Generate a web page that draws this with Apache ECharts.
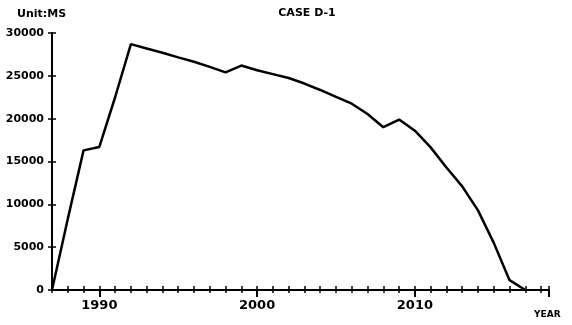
<!DOCTYPE html>
<html>
<head>
<meta charset="utf-8">
<script src="https://cdn.jsdelivr.net/npm/echarts@6/dist/echarts.min.js"></script>
<style>html,body{margin:0;padding:0;background:#fff}#c{width:572px;height:325px}</style>
</head>
<body>
<div id="c"></div>
<script>
const years = [1987,1988,1989,1990,1991,1992,1993,1994,1995,1996,1997,1998,1999,2000,2001,2002,2003,2004,2005,2006,2007,2008,2009,2010,2011,2012,2013,2014,2015,2016,2017];
const values = [0,8300,16300,16700,22500,28700,28200,27700,27150,26650,26050,25400,26200,25650,25200,24750,24100,23350,22550,21750,20550,19000,19900,18600,16650,14300,12100,9300,5500,1150,0];
const xLabelValues = [1990,2000,2010];
const yTicks = [0,5000,10000,15000,20000,25000,30000];
const titleText = 'CASE D-1';
const yName = 'Unit:MS';
const xName = 'YEAR';

const fontFam = '"DejaVu Sans", sans-serif';
const chart = echarts.init(document.getElementById('c'));
const xmin = 1987, xmax = 2018.5;
const plain = v => String(v);
const baseX = {type:'value', min:xmin, max:xmax, position:'bottom', splitLine:{show:false}, axisLabel:{show:false}};
chart.setOption({
  backgroundColor:'#fff',
  animation:false,
  title:{text:titleText, left:302, top:3, textAlign:'center', textStyle:{fontSize:11, fontWeight:'bold', color:'#000', fontFamily:fontFam}},
  graphic:[
    {type:'text', left:17, top:9, style:{text:yName, fontSize:11, fontWeight:'bold', fill:'#000', fontFamily:fontFam}},
    {type:'text', left:534, top:310, style:{text:xName, fontSize:9, fontWeight:'bold', fill:'#000', fontFamily:fontFam}}
  ],
  grid:{left:52, right:23, top:33, bottom:35},
  xAxis:[
    Object.assign({}, baseX, {interval:1, axisLine:{show:true, lineStyle:{color:'#000', width:2}}, axisTick:{show:true, inside:true, length:4, lineStyle:{color:'#000', width:1.5}}}),
    Object.assign({}, baseX, {interval:1, axisLine:{show:false}, axisTick:{show:true, inside:false, length:3, lineStyle:{color:'#000', width:1.5}}}),
    Object.assign({}, baseX, {axisLine:{show:false},
      axisTick:{show:true, inside:false, length:7, customValues:[1990,2000,2010,xmax], lineStyle:{color:'#000', width:2}},
      axisLabel:{show:true, customValues:xLabelValues, formatter:plain, margin:9, fontSize:13, fontWeight:'bold', color:'#000', fontFamily:fontFam}})
  ],
  yAxis:[
    {type:'value', min:0, max:30000, interval:5000, splitLine:{show:false},
     axisLine:{show:true, lineStyle:{color:'#000', width:2}},
     axisTick:{show:true, inside:false, length:4, lineStyle:{color:'#000', width:1.5}},
     axisLabel:{show:true, customValues:yTicks, formatter:plain, margin:8, fontSize:11, fontWeight:'bold', color:'#000', fontFamily:fontFam}},
    {type:'value', min:0, max:30000, interval:5000, position:'left', splitLine:{show:false},
     axisLine:{show:false}, axisLabel:{show:false},
     axisTick:{show:true, inside:true, length:4, lineStyle:{color:'#000', width:1.5}}}
  ],
  series:[{type:'line', xAxisIndex:0, yAxisIndex:0, symbol:'none', smooth:false,
    lineStyle:{color:'#000', width:2.5},
    data: years.map((y,i)=>[y, values[i]])}]
});
</script>
</body>
</html>
